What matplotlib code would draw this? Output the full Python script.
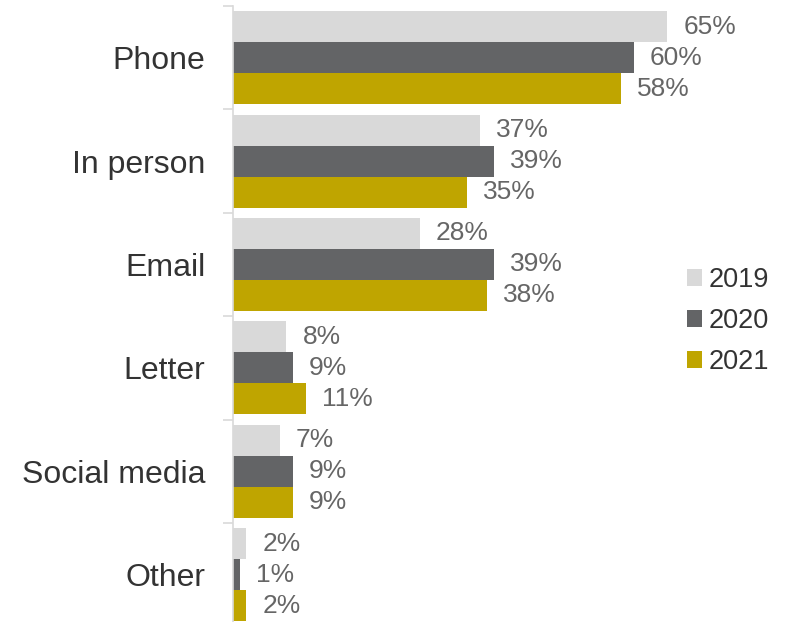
import matplotlib
matplotlib.use("Agg")
import matplotlib.pyplot as plt
import numpy as np

plt.rcParams['font.family'] = ['Liberation Sans', 'DejaVu Sans']

categories = ["Phone", "In person", "Email", "Letter", "Social media", "Other"]
years = ["2019", "2020", "2021"]
values = {
    "2019": [65, 37, 28, 8, 7, 2],
    "2020": [60, 39, 39, 9, 9, 1],
    "2021": [58, 35, 38, 11, 9, 2],
}
colors = {"2019": "#D9D9D9", "2020": "#636466", "2021": "#BFA500"}

fig = plt.figure(figsize=(7.87, 6.22), dpi=100)
ax = fig.add_axes([0.296, -0.007, 0.704, 0.9974])

n = len(categories)
bar_h = 0.3
centers = np.arange(n)
offsets = [-bar_h, 0, bar_h]

for yr, off in zip(years, offsets):
    ys = centers + off
    ax.barh(ys, values[yr], height=bar_h, color=colors[yr], label=yr,
            edgecolor='none')
    for y, v in zip(ys, values[yr]):
        ax.annotate(f"{v}%", xy=(v, y), xytext=(11.5, 0), textcoords='offset points',
                    ha='left', va='center', fontsize=19, color='#666666')

ax.set_xlim(0, 82.9)
ax.set_ylim(n - 0.5, -0.5)

ax.set_yticks(centers)
ax.set_yticklabels(categories, fontsize=23, color='#333333')
ax.tick_params(axis='y', which='major', length=0, pad=20)
ax.set_yticks(np.arange(n + 1) - 0.5, minor=True)
ax.tick_params(axis='y', which='minor', length=7.2, width=1.2, color='#D9D9D9')
ax.set_xticks([])

for s in ['top', 'right', 'bottom']:
    ax.spines[s].set_visible(False)
ax.spines['left'].set_color('#D9D9D9')
ax.spines['left'].set_linewidth(1.2)

leg = ax.legend(loc='center left', bbox_to_anchor=(0.776, 0.492), frameon=False,
                fontsize=19.5, handlelength=0.55, handleheight=0.55,
                handletextpad=0.25, labelspacing=0.55)
for t in leg.get_texts():
    t.set_color('#333333')

fig.savefig("out.png", dpi=100)
